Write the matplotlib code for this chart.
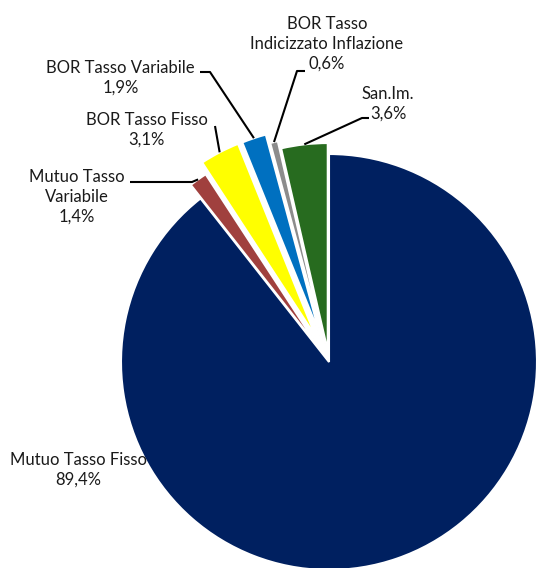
import numpy as np
import matplotlib
matplotlib.use("Agg")
import matplotlib.pyplot as plt

plt.rcParams['font.family'] = ['Lato', 'DejaVu Sans']

# Data
categories = ["Mutuo Tasso Fisso", "Mutuo Tasso\nVariabile", "BOR Tasso Fisso",
              "BOR Tasso Variabile", "BOR Tasso\nIndicizzato Inflazione", "San.Im."]
values = [89.4, 1.4, 3.1, 1.9, 0.6, 3.6]
value_labels = ["89,4%", "1,4%", "3,1%", "1,9%", "0,6%", "3,6%"]

colors = ['#002060', '#A0403E', '#FFFF00', '#0070C0', '#8C8C8C', '#276B1F']
explode_frac = [0.0, 0.08, 0.137, 0.135, 0.09, 0.053]

W, H = 538, 568
fig = plt.figure(figsize=(W / 100, H / 100), dpi=100)
ax = fig.add_axes([0, 0, 1, 1])

R = 208
cx, cy = 329, H - 362
wedges, _ = ax.pie(values, colors=colors, explode=[e * R for e in explode_frac],
                   startangle=90, counterclock=False, radius=R, center=(cx, cy),
                   wedgeprops=dict(edgecolor='white', linewidth=1.5))
ax.set_xlim(0, W)
ax.set_ylim(0, H)
ax.set_aspect('equal')
ax.axis('off')

# label layout (pixel coords from top-left): text center, leader start, leader elbow
text_pos = [(78.5, 470), (77, 197), (146.5, 130), (120.5, 78), (327, 44), (388, 104)]
leaders = [None,
           [(130, 182), (192, 182)],
           [(215, 126), (215, 126)],
           [(200, 72), (210, 72)],
           [(305, 71), (297, 71)],
           [(369, 118), (362, 118)]]

for i, w in enumerate(wedges):
    tx, ty = text_pos[i]
    ax.text(tx, H - ty, categories[i] + "\n" + value_labels[i], ha='center', va='center',
            fontsize=12, color='#1a1a1a', linespacing=1.3)
    if leaders[i] is not None:
        th = np.deg2rad((w.theta1 + w.theta2) / 2)
        ax_, ay_ = w.center[0] + w.r * np.cos(th), w.center[1] + w.r * np.sin(th)
        (sx, sy), (ex, ey) = leaders[i]
        ax.plot([sx, ex, ax_], [H - sy, H - ey, ay_], color='black', lw=1.5,
                solid_capstyle='butt', zorder=5)

fig.savefig("out.png", dpi=100)
